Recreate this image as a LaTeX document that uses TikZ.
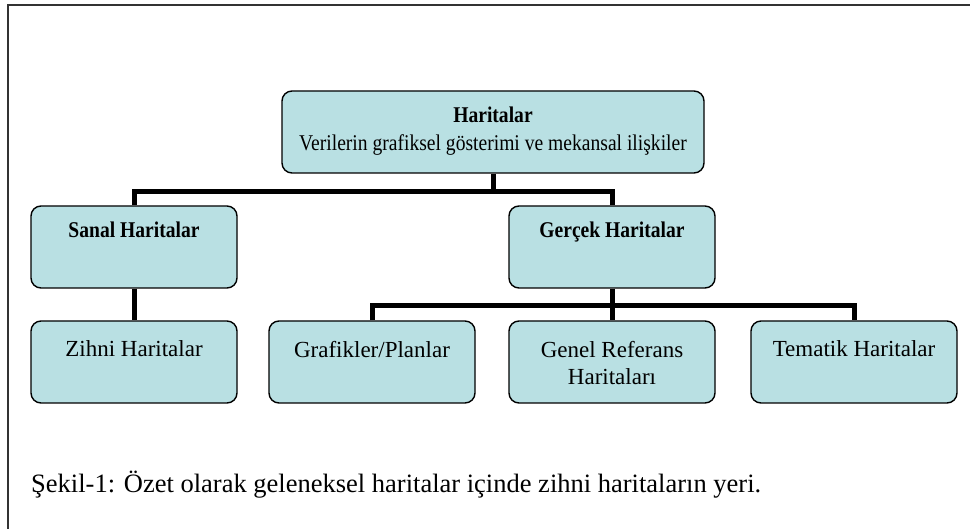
\documentclass[tikz,border=0pt]{standalone}
\usepackage{fontspec}
\setmainfont{Liberation Serif}
\newfontfamily\condfont{Liberation Serif}[FakeStretch=0.87]
\usetikzlibrary{calc}
\definecolor{boxfill}{RGB}{185,224,227}
\newcommand\boxtxt[3]{\begin{minipage}[c][82pt][t]{#1}\centering\vspace*{#2}#3\end{minipage}}
\begin{document}
\begin{tikzpicture}[x=1pt,y=-1pt,
 mapbox/.style={draw=black,fill=boxfill,rounded corners=10pt,line width=1.4pt,inner sep=0pt,
   minimum width=206pt,minimum height=82pt,font=\fontsize{23}{27}\selectfont},
 headfont/.style={font=\fontsize{22.5}{28}\selectfont\condfont\bfseries},
 conn/.style={line width=5pt}]
\useasboundingbox (0,0) rectangle (970,529);
\begin{scope}
\clip (0,0) rectangle (970,529);
\draw[line width=2pt,draw=black!80] (8,5) rectangle (1000,560);
\end{scope}

\node[mapbox,minimum width=422pt,font=\fontsize{22.5}{28}\selectfont\condfont] (top) at (493,132)
  {\boxtxt{410pt}{16pt}{\textbf{Haritalar}\\ Verilerin grafiksel gösterimi ve mekansal ilişkiler}};
\node[mapbox,headfont] (sanal) at (134,247) {\boxtxt{200pt}{16pt}{Sanal Haritalar}};
\node[mapbox,headfont] (gercek) at (612,247) {\boxtxt{200pt}{16pt}{Gerçek Haritalar}};
\node[mapbox] (zihni) at (134,362) {\boxtxt{200pt}{20pt}{Zihni Haritalar}};
\node[mapbox] (grafik) at (372,362) {\boxtxt{200pt}{20pt}{Grafikler/Planlar}};
\node[mapbox] (genel) at (612,362) {\boxtxt{200pt}{20pt}{Genel Referans\\ Haritaları}};
\node[mapbox] (tematik) at (854,362) {\boxtxt{200pt}{20pt}{Tematik Haritalar}};

\coordinate (j1) at ($(top.south)+(0,18)$);
\coordinate (j2) at ($(gercek.south)+(0,17)$);
\draw[conn] (sanal.north) |- (j1) -| (gercek.north);
\draw[conn] (top.south) -- (j1);
\draw[conn] (sanal.south) -- (zihni.north);
\draw[conn] (grafik.north) |- (j2) -| (tematik.north);
\draw[conn] (gercek.south) -- (genel.north);

\node[anchor=base west,inner sep=0pt,font=\fontsize{26.5}{32}\selectfont] (cap) at (31,492)
  {Şekil-1: Özet olarak geleneksel haritalar içinde zihni haritaların yeri.};
\end{tikzpicture}
\end{document}
